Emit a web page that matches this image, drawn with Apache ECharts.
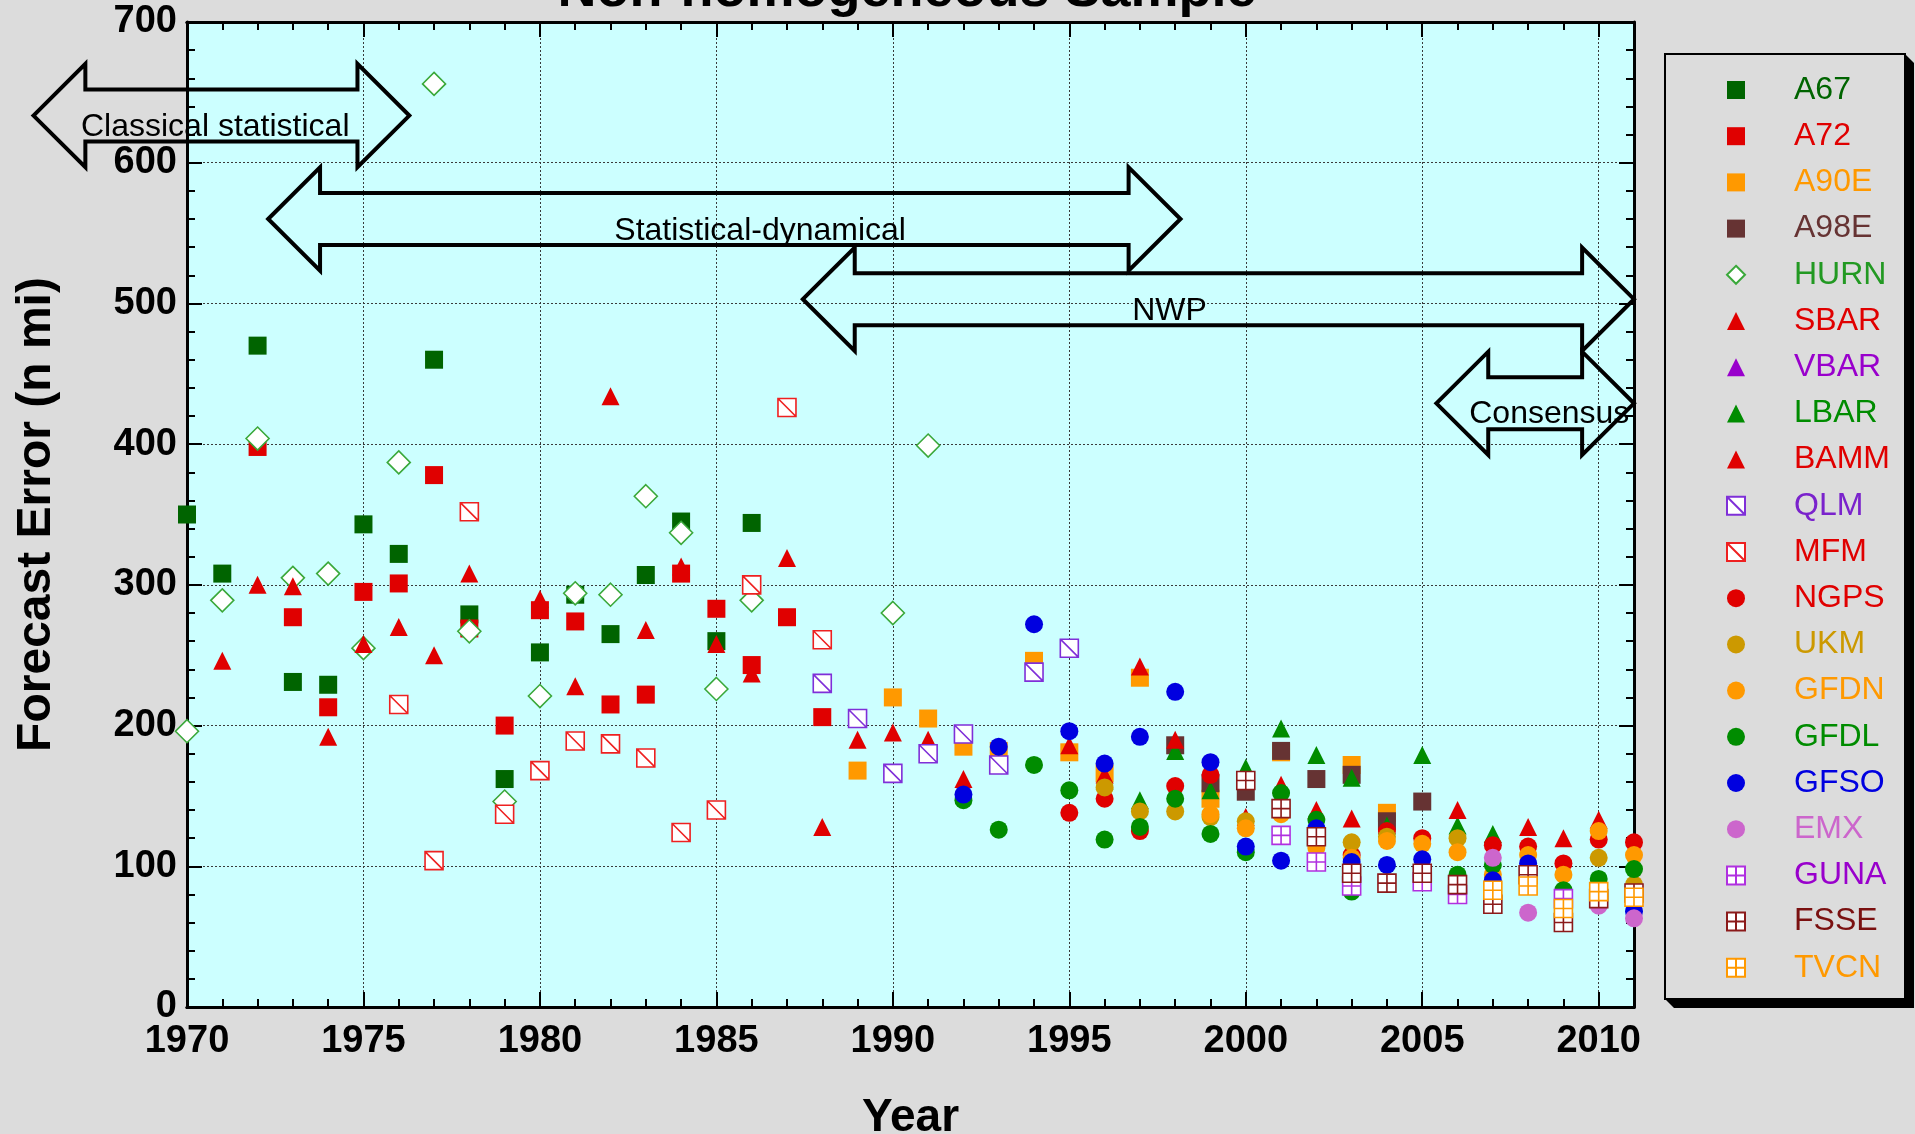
<!DOCTYPE html>
<html><head><meta charset="utf-8">
<script src="https://cdn.jsdelivr.net/npm/echarts@6/dist/echarts.min.js"></script>
<style>html,body{margin:0;padding:0;background:#dcdcdc;} #c{width:1915px;height:1134px;}</style>
</head><body><div id="c"></div>
<script>
// ---------------- DATA ----------------
const yTickLabels = ['0','100','200','300','400','500','600','700'];
const xTickLabels = ['1970','1975','1980','1985','1990','1995','2000','2005','2010'];

const A67 = [[1970,350],[1971,308],[1972,470],[1973,231],[1974,229],[1975,343],[1976,322],[1977,460],[1978,279],[1979,162],[1980,252],[1981,293],[1982,265],[1983,307],[1984,345],[1985,260],[1986,344]];
const A72 = [[1972,398],[1973,277],[1974,213],[1975,295],[1976,301],[1977,378],[1978,269],[1979,200],[1980,282],[1981,274],[1982,215],[1983,222],[1984,308],[1985,283],[1986,243],[1987,277],[1988,206]];
const A90E = [[1989,168],[1990,220],[1991,205],[1992,185],[1993,182],[1994,246],[1995,181],[1996,166],[1997,234],[1999,148],[2001,181],[2003,172],[2004,138]];
const A98E = [[1998,186],[1999,159],[2000,153],[2001,182],[2002,162],[2003,165],[2004,132],[2005,146]];
const HURN = [[1970,196],[1971,289],[1972,404],[1973,305],[1974,308],[1975,255],[1976,387],[1977,656],[1978,267],[1979,146],[1980,221],[1981,294],[1982,293],[1983,363],[1984,337],[1985,226],[1986,289],[1990,280],[1991,399]];
const SBAR = [[1971,246],[1972,300],[1973,299],[1974,192],[1975,258],[1976,270],[1977,250],[1978,308],[1980,290],[1981,228],[1982,434],[1983,268],[1984,313],[1985,258],[1986,237],[1987,319],[1988,128],[1989,190],[1990,195],[1991,190]];
const VBAR = [];
const LBAR = [[1996,161],[1997,147],[1998,182],[1999,154],[2000,170],[2001,198],[2002,179],[2003,163],[2004,129],[2005,179],[2006,129],[2007,123]];
const BAMM = [[1992,162],[1995,186],[1996,165],[1997,242],[1998,190],[2000,135],[2001,158],[2002,140],[2003,134],[2006,140],[2008,128],[2009,120],[2010,133]];
const QLM = [[1988,230],[1989,205],[1990,166],[1991,180],[1992,194],[1993,172],[1994,238],[1995,255]];
const MFM = [[1976,215],[1977,104],[1978,352],[1979,137],[1980,168],[1981,189],[1982,187],[1983,177],[1984,124],[1985,140],[1986,300],[1987,426],[1988,261]];
const NGPS = [[1995,138],[1996,148],[1997,125],[1998,157],[1999,165],[2003,108],[2004,125],[2005,120],[2007,115],[2008,114],[2009,102],[2010,119],[2011,117]];
const UKM = [[1996,156],[1997,139],[1998,139],[1999,135],[2000,132],[2003,117],[2004,121],[2006,120],[2010,106],[2011,87]];
const GFDN = [[1999,137],[2000,127],[2001,137],[2002,113],[2003,106],[2004,118],[2005,116],[2006,110],[2007,94],[2008,108],[2009,94],[2010,125],[2011,108]];
const GFDL = [[1992,147],[1993,126],[1994,172],[1995,154],[1996,119],[1997,128],[1998,148],[1999,123],[2000,110],[2001,152],[2002,133],[2003,82],[2006,94],[2007,101],[2009,83],[2010,91],[2011,98]];
const GFSO = [[1992,151],[1993,185],[1994,272],[1995,196],[1996,173],[1997,192],[1998,224],[1999,174],[2000,114],[2001,104],[2002,127],[2003,103],[2004,101],[2005,105],[2007,90],[2008,102],[2011,68]];
const EMX = [[2007,106],[2008,67],[2010,72],[2011,63]];
const GUNA = [[2001,122],[2002,103],[2003,86],[2005,89],[2006,80],[2009,77]];
const FSSE = [[2000,161],[2001,141],[2002,121],[2003,95],[2004,88],[2005,95],[2006,87],[2007,73],[2008,94],[2009,60],[2010,77],[2011,81]];
const TVCN = [[2007,83],[2008,86],[2009,70],[2010,82],[2011,78]];

// era annotation arrows (data coordinates)
const arrowLabels = ['Classical statistical','Statistical-dynamical','NWP','Consensus'];
const arrowStart  = [1965.65, 1972.3, 1987.45, 2005.4];
const arrowEnd    = [1976.3, 1998.15, 2011.0, 2011.0];
const arrowCenter = [633.5, 560, 503, 429];
const arrowLabelX = [1970.8, 1986.24, 1997.84, 2008.6];
const arrowLabelY = [625.5, 551.4, 494.8, 421.2];
const SHAFT_HALF = 18.5, HEAD_HALF = 36.7, HEAD_LEN = 1.47;

// ---------------- STYLE ----------------
const FONT = '"Liberation Sans", Arial, Helvetica, sans-serif';
const SQ = 'path://M0,0L10,0L10,10L0,10Z';
const TRI = 'path://M5,0L10,10L0,10Z';
const DIA = 'path://M5,0L10,5L5,10L0,5Z';
const SLASH = 'path://M0,0L10,0L10,10L0,10ZM0,0L10,10';
const GRIDSQ = 'path://M0,0L10,0L10,10L0,10ZM5,0L5,10M0,5L10,5';

const defs = [
  {name:'A67', data:A67, symbol:SQ, color:'#006400', text:'#006400', size:18, open:false},
  {name:'A72', data:A72, symbol:SQ, color:'#e00000', text:'#e00000', size:18, open:false},
  {name:'A90E', data:A90E, symbol:SQ, color:'#ff9900', text:'#ff9900', size:18, open:false},
  {name:'A98E', data:A98E, symbol:SQ, color:'#663333', text:'#663333', size:18, open:false},
  {name:'HURN', data:HURN, symbol:DIA, color:'#3aa83a', text:'#229922', size:23, open:true},
  {name:'SBAR', data:SBAR, symbol:TRI, color:'#e00000', text:'#e00000', size:18, open:false},
  {name:'VBAR', data:VBAR, symbol:TRI, color:'#9900cc', text:'#9900cc', size:18, open:false},
  {name:'LBAR', data:LBAR, symbol:TRI, color:'#008c00', text:'#008c00', size:18, open:false},
  {name:'BAMM', data:BAMM, symbol:TRI, color:'#e00000', text:'#e00000', size:18, open:false},
  {name:'QLM', data:QLM, symbol:SLASH, color:'#7f2fd8', text:'#7a22cc', size:18, open:true},
  {name:'MFM', data:MFM, symbol:SLASH, color:'#ee2020', text:'#e00000', size:18, open:true},
  {name:'NGPS', data:NGPS, symbol:'circle', color:'#e00000', text:'#e00000', size:18, open:false},
  {name:'UKM', data:UKM, symbol:'circle', color:'#cc9900', text:'#cc9900', size:18, open:false},
  {name:'GFDN', data:GFDN, symbol:'circle', color:'#ff9900', text:'#ff9900', size:18, open:false},
  {name:'GFDL', data:GFDL, symbol:'circle', color:'#008c00', text:'#008c00', size:18, open:false},
  {name:'GFSO', data:GFSO, symbol:'circle', color:'#0000e0', text:'#0000e0', size:18, open:false},
  {name:'EMX', data:EMX, symbol:'circle', color:'#cc66cc', text:'#cc66cc', size:18, open:false},
  {name:'GUNA', data:GUNA, symbol:GRIDSQ, color:'#b030e0', text:'#9900cc', size:18, open:true},
  {name:'FSSE', data:FSSE, symbol:GRIDSQ, color:'#8b1a1a', text:'#7a1010', size:18, open:true},
  {name:'TVCN', data:TVCN, symbol:GRIDSQ, color:'#ff9900', text:'#ff9900', size:18, open:true}
];

const scatterSeries = defs.map(d => ({
  type: 'scatter', name: d.name, data: d.data, xAxisIndex: 0, yAxisIndex: 0,
  symbol: d.symbol, symbolSize: d.size, silent: true,
  itemStyle: d.open ? {color:'#ffffff', borderColor:d.color, borderWidth:1.6, opacity:1}
                    : {color:d.color, borderWidth:0, opacity:1},
  emphasis: {disabled: true}
}));

const arrowSeries = {
  type: 'custom', name: 'eras', coordinateSystem: 'cartesian2d', xAxisIndex: 0, yAxisIndex: 0,
  clip: false, silent: true, z: 5,
  data: arrowLabels.map((_, i) => [i]),
  renderItem: function (params, api) {
    const i = api.value(0);
    const x0 = arrowStart[i], x1 = arrowEnd[i], yc = arrowCenter[i];
    const pts = [
      [x0, yc], [x0 + HEAD_LEN, yc + HEAD_HALF], [x0 + HEAD_LEN, yc + SHAFT_HALF],
      [x1 - HEAD_LEN, yc + SHAFT_HALF], [x1 - HEAD_LEN, yc + HEAD_HALF], [x1, yc],
      [x1 - HEAD_LEN, yc - HEAD_HALF], [x1 - HEAD_LEN, yc - SHAFT_HALF],
      [x0 + HEAD_LEN, yc - SHAFT_HALF], [x0 + HEAD_LEN, yc - HEAD_HALF]
    ].map(p => api.coord(p));
    const lp = api.coord([arrowLabelX[i], arrowLabelY[i]]);
    return {type: 'group', children: [
      {type: 'polygon', shape: {points: pts}, style: {fill: 'none', stroke: '#000', lineWidth: 4, lineJoin: 'miter', miterLimit: 20}},
      {type: 'text', x: lp[0], y: lp[1], style: {text: arrowLabels[i], fill: '#000', font: '32px ' + FONT, align: 'center', verticalAlign: 'middle'}}
    ]};
  }
};

const axisLineStyle = {show: true, onZero: false, lineStyle: {color: '#000', width: 3}};
const majorTick = {show: true, inside: true, length: 15, lineStyle: {color: '#000', width: 2}};
const minorTickX = {show: true, inside: true, length: 8, lineStyle: {color: '#000', width: 2}};
const gridLine = {show: true, lineStyle: {color: '#3a3a3a', type: [2, 2], width: 1}};
const labelStyle = {color: '#000', fontSize: 38, fontWeight: 'bold', fontFamily: FONT};

function xAxisDef(pos, interval, isMain) {
  return {
    type: 'value', min: 1970, max: 2011, interval: interval, position: pos,
    axisLine: axisLineStyle,
    axisTick: interval === 5 ? majorTick : minorTickX,
    axisLabel: isMain ? Object.assign({show: true, margin: 16, showMaxLabel: false,
      formatter: v => { const k = xTickLabels.indexOf(String(v)); return k >= 0 ? xTickLabels[k] : ''; }}, labelStyle) : {show: false},
    splitLine: isMain ? gridLine : {show: false},
    name: isMain ? 'Year' : '', nameLocation: 'middle', nameGap: 88,
    nameTextStyle: {color: '#000', fontSize: 46, fontWeight: 'bold', fontFamily: FONT}
  };
}
function yAxisDef(pos, isMain) {
  return {
    type: 'value', min: 0, max: 700, interval: 100, position: pos,
    axisLine: axisLineStyle, axisTick: majorTick,
    minorTick: {show: true, splitNumber: 5, length: 8, lineStyle: {color: '#000', width: 2}},
    axisLabel: isMain ? Object.assign({show: true, margin: 10,
      formatter: v => yTickLabels[Math.round(v / 100)]}, labelStyle) : {show: false},
    splitLine: isMain ? gridLine : {show: false},
    name: isMain ? 'Forecast Error (n mi)' : '', nameLocation: 'middle', nameGap: 126,
    nameTextStyle: {color: '#000', fontSize: 48, fontWeight: 'bold', fontFamily: FONT}
  };
}

const chart = echarts.init(document.getElementById('c'), null, {renderer: 'canvas'});
chart.setOption({
  animation: false,
  backgroundColor: '#dcdcdc',
  grid: {left: 187, right: 281, top: 22, bottom: 127, show: true, backgroundColor: '#ccffff', borderWidth: 0,
         containLabel: false, outerBoundsMode: 'none'},
  xAxis: [xAxisDef('bottom', 5, true), xAxisDef('bottom', 1, false), xAxisDef('top', 5, false), xAxisDef('top', 1, false)],
  yAxis: [yAxisDef('left', true), yAxisDef('right', false)],
  legend: {
    orient: 'vertical', left: 1726, top: 72, padding: 0,
    itemWidth: 106, itemHeight: 18, itemGap: 10.2, symbolKeepAspect: true, selectedMode: false,
    textStyle: {fontSize: 32, lineHeight: 36, fontFamily: FONT},
    data: defs.map(d => ({name: d.name, textStyle: {color: d.text}}))
  },
  graphic: [
    {type: 'polygon', z: 0, shape: {points: [[1905, 54], [1914, 63], [1914, 1008], [1674, 1008], [1665, 999]]}, style: {fill: '#000'}},
    {type: 'rect', z: 1, shape: {x: 1665, y: 54, width: 240, height: 945}, style: {fill: '#dcdcdc', stroke: '#000', lineWidth: 2}},
    {type: 'text', z: 10, x: 907, y: 18, style: {text: 'Non-homogeneous Sample', font: 'bold 54px ' + FONT, fill: '#000', align: 'center', verticalAlign: 'bottom'}}
  ],
  series: scatterSeries.concat([arrowSeries])
});
</script></body></html>
